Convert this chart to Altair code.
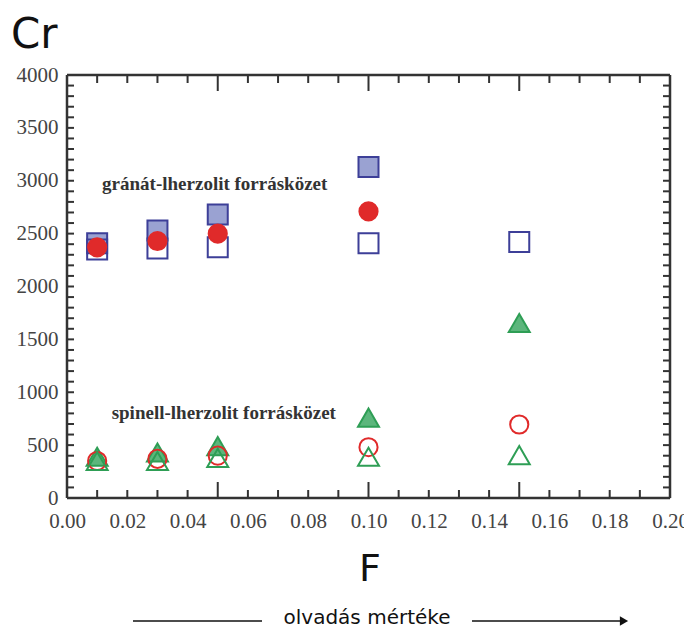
import altair as alt
import pandas as pd

# data
F = [0.01, 0.03, 0.05, 0.10, 0.15]
grt_filled_sq = [2410, 2530, 2680, 3130]          # F 0.01..0.10
grt_open_sq = [2350, 2360, 2370, 2410, 2420]
grt_circle = [2370, 2430, 2500, 2710]              # F 0.01..0.10
sp_filled_tri = [390, 430, 490, 760, 1655]
sp_open_circle = [350, 370, 400, 480, 695]
sp_open_tri = [350, 350, 380, 390, 405]

x_minor = [round(0.01 * i, 2) for i in range(1, 20)]
x_major = [0.05, 0.10, 0.15]
y_ticks = list(range(100, 4000, 100))
x_labels = [round(0.02 * i, 2) for i in range(11)]
y_labels = list(range(0, 4001, 500))

W, H = 603, 423

def df(xs, ys):
    return pd.DataFrame({"F": xs[:len(ys)], "Cr": ys})

xsc = alt.Scale(domain=[0, 0.2], nice=False)
ysc = alt.Scale(domain=[0, 4000], nice=False)

X = alt.X("F:Q", scale=xsc,
          axis=alt.Axis(values=x_labels, format=".2f",
                        ticks=False, domain=False, grid=False, title=None,
                        labelFont="Liberation Serif", labelFontSize=21, labelColor="#444",
                        labelPadding=12, labelFlush=False))
Y = alt.Y("Cr:Q", scale=ysc,
          axis=alt.Axis(values=y_labels, format="d", ticks=False, domain=False,
                        grid=False, title=None, labelFont="Liberation Serif",
                        labelFontSize=21, labelColor="#444", labelPadding=9))

def pts(data, shape, fill, stroke, size):
    return alt.Chart(data).mark_point(shape=shape, filled=True, fill=fill, stroke=stroke,
                                      strokeWidth=2, size=size, opacity=1).encode(x=X, y=Y)

BLUE = "#3d3f98"
RED = "#e02a2a"
GREEN = "#2e9e55"

layers = [
    pts(df(F, grt_filled_sq), "square", "#9aa2d2", BLUE, 400),
    pts(df(F, grt_open_sq), "square", "transparent", BLUE, 400),
    pts(df(F, grt_circle), "circle", RED, RED, 330),
    pts(df(F, sp_filled_tri), "triangle-up", "#5cb67c", GREEN, 440),
    pts(df(F, sp_open_circle), "circle", "transparent", RED, 330),
    pts(df(F, sp_open_tri), "triangle-up", "transparent", GREEN, 440),
]

tick_color = "#333"
xmin_df = pd.DataFrame({"F": [v for v in x_minor if v not in x_major]})
xmaj_df = pd.DataFrame({"F": x_major})
y_df = pd.DataFrame({"Cr": y_ticks})

def xt(data, y0, y1):
    return alt.Chart(data).mark_rule(color=tick_color, strokeWidth=2).encode(
        x=alt.X("F:Q", scale=xsc), y=alt.value(y0), y2=alt.value(y1))

def yt(x0, x1):
    return alt.Chart(y_df).mark_rule(color=tick_color, strokeWidth=2).encode(
        y=alt.Y("Cr:Q", scale=ysc), x=alt.value(x0), x2=alt.value(x1))

one = pd.DataFrame({"a": [0]})

def frame_rule(**kw):
    return alt.Chart(one).mark_rule(color="#333", strokeWidth=2.5).encode(**kw)

frame = [
    frame_rule(x=alt.value(0), x2=alt.value(W), y=alt.value(0)),
    frame_rule(x=alt.value(0), x2=alt.value(W), y=alt.value(H)),
    frame_rule(y=alt.value(0), y2=alt.value(H), x=alt.value(0)),
    frame_rule(y=alt.value(0), y2=alt.value(H), x=alt.value(W)),
]

ticks = [
    xt(xmin_df, H, H - 8), xt(xmaj_df, H, H - 16),
    xt(xmin_df, 0, 8), xt(xmaj_df, 0, 16),
    yt(0, 7), yt(W, W - 7),
]

ann = pd.DataFrame({
    "F": [0.049, 0.052],
    "Cr": [2970, 800],
    "t": ["gránát-lherzolit forrásközet", "spinell-lherzolit forrásközet"],
})
ann_layer = alt.Chart(ann).mark_text(font="Liberation Serif", fontSize=19, fontWeight="bold",
                                     color="#333").encode(
    x=alt.X("F:Q", scale=xsc), y=alt.Y("Cr:Q", scale=ysc), text="t:N")

cr = alt.Chart(pd.DataFrame({"t": ["Cr"]})).mark_text(
    font="DejaVu Sans", fontSize=42, color="#111", align="left").encode(
    x=alt.value(-56), y=alt.value(-40), text="t:N")
f_lab = alt.Chart(pd.DataFrame({"t": ["F"]})).mark_text(
    font="DejaVu Sans", fontSize=38, color="#111").encode(
    x=alt.value(303), y=alt.value(495), text="t:N")
olv = alt.Chart(pd.DataFrame({"t": ["olvadás mértéke"]})).mark_text(
    font="DejaVu Sans", fontSize=20, color="#111").encode(
    x=alt.value(300), y=alt.value(543), text="t:N")
line1 = alt.Chart(one).mark_rule(color="#111", strokeWidth=1.5).encode(
    x=alt.value(66), x2=alt.value(195), y=alt.value(546))
line2 = alt.Chart(one).mark_rule(color="#111", strokeWidth=1.5).encode(
    x=alt.value(405), x2=alt.value(553), y=alt.value(546))
head = alt.Chart(one).mark_point(
    shape="triangle-right", filled=True, color="#111", size=90, opacity=1).encode(
    x=alt.value(557), y=alt.value(546))

chart = alt.layer(*ticks, *frame, *layers, ann_layer, cr, f_lab, olv, line1, line2, head).properties(
    width=W, height=H,
    autosize=alt.AutoSizeParams(type="none"),
    padding={"left": 59, "top": 67, "right": 14, "bottom": 140},
).configure_view(strokeWidth=0).configure(background="white")

chart.save("out.html", embed_options={"renderer": "svg", "actions": False})
